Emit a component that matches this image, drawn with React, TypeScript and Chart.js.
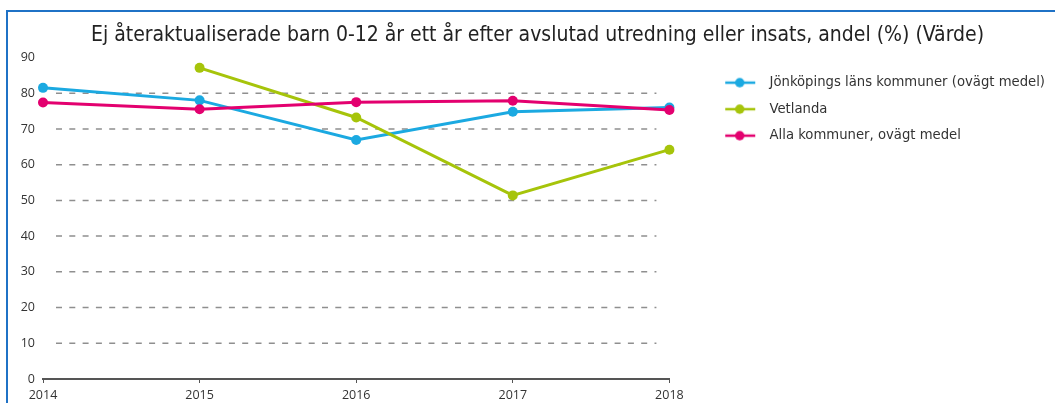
import React, { useEffect, useRef } from "react";
import { Chart, registerables } from "chart.js";

Chart.register(...registerables);

const years = ["2014", "2015", "2016", "2017", "2018"];
const jonkoping = [81.5, 78.0, 66.9, 74.8, 76.0];
const vetlanda = [null, 87.1, 73.2, 51.4, 64.2];
const alla = [77.4, 75.5, 77.5, 77.9, 75.3];
const seriesNames = [
  "Jönköpings läns kommuner (ovägt medel)",
  "Vetlanda",
  "Alla kommuner, ovägt medel",
];
const seriesColors = ["#1ba9e1", "#a6c40a", "#e3006f"];
const yTicksMax = 90;
const yTicksStep = 10;
const titleText =
  "Ej återaktualiserade barn 0-12 år ett år efter avslutad utredning eller insats, andel (%) (Värde)";

const FONT = '"DejaVu Sans Condensed", "DejaVu Sans", sans-serif';
const TICK_FONT = '"Open Sans", sans-serif';
const LEGEND_SIZE = 14.7;

function makeSwatch(color: string): HTMLCanvasElement {
  const c = document.createElement("canvas");
  c.width = 81;
  c.height = 14;
  const g = c.getContext("2d")!;
  g.strokeStyle = color;
  g.lineWidth = 2.5;
  g.beginPath();
  g.moveTo(44, 7);
  g.lineTo(74, 7);
  g.stroke();
  g.fillStyle = color;
  g.beginPath();
  g.arc(58.5, 7, 4.7, 0, Math.PI * 2);
  g.fill();
  return c;
}

const dashGrid = {
  id: "dashGrid",
  beforeDatasetsDraw(chart: any) {
    const ys = chart.scales.y;
    const { left, right } = chart.chartArea;
    const ctx = chart.ctx;
    ctx.save();
    ctx.setLineDash([6, 7.3]);
    ctx.strokeStyle = "#8f8f8f";
    ctx.lineWidth = 1.5;
    ys.ticks.forEach((t: any) => {
      if (t.value <= ys.min || t.value >= ys.max) return;
      const py = ys.getPixelForValue(t.value);
      ctx.beginPath();
      ctx.moveTo(left + 13, py);
      ctx.lineTo(right - 13, py);
      ctx.stroke();
    });
    ctx.restore();
  },
};

export default function App() {
  const ref = useRef<HTMLCanvasElement>(null);
  useEffect(() => {
    const canvas = ref.current!;
    const mctx = canvas.getContext("2d")!;
    mctx.font = `normal ${LEGEND_SIZE}px ${FONT}`;
    const textW = Math.max(...seriesNames.map((s) => mctx.measureText(s).width));
    const labelPad = 11.8;
    const pointW = 81;
    const legendW = labelPad + pointW + LEGEND_SIZE / 2 + textW + 10;
    const plotRight = 671;
    const plotLeft = 43;
    const padL = 20;
    const padR = Math.max(0, 1055 - plotRight - legendW);
    const swatches = seriesColors.map(makeSwatch);
    const values = [jonkoping, vetlanda, alla];

    const chart = new Chart(canvas, {
      type: "line",
      data: {
        labels: years,
        datasets: values.map((v, i) => ({
          label: seriesNames[i],
          data: v,
          borderColor: seriesColors[i],
          backgroundColor: seriesColors[i],
          pointBackgroundColor: seriesColors[i],
          pointBorderColor: seriesColors[i],
          borderWidth: 3,
          pointRadius: 5,
          pointBorderWidth: 0,
          tension: 0,
          clip: false as any,
          order: 3 - i,
        })),
      },
      options: {
        responsive: false,
        animation: false,
        devicePixelRatio: 1,
        layout: { padding: { left: padL, right: padR, top: 0, bottom: 0 } },
        plugins: {
          title: {
            display: true,
            text: titleText,
            color: "#222222",
            font: { family: FONT, size: 21, weight: "normal" },
            padding: { top: 23, bottom: 9.3 },
          },
          legend: {
            position: "right",
            align: "start",
            fullSize: false,
            maxWidth: 700,
            title: {
              display: true,
              text: "",
              font: { size: 1, lineHeight: 1 },
              padding: { top: 2.5, bottom: 2.5 },
            },
            labels: {
              usePointStyle: true,
              pointStyleWidth: pointW,
              padding: labelPad,
              color: "#333333",
              font: { family: FONT, size: LEGEND_SIZE },
              generateLabels(ch: any) {
                const items = Chart.defaults.plugins.legend.labels.generateLabels(ch);
                return items
                  .sort((a: any, b: any) => a.datasetIndex - b.datasetIndex)
                  .map((it: any) => ({ ...it, pointStyle: swatches[it.datasetIndex] }));
              },
            },
          },
          tooltip: { enabled: false },
        },
        scales: {
          x: {
            offset: false,
            grid: {
              display: true,
              drawOnChartArea: false,
              drawTicks: true,
              tickLength: 4,
              color: "#555555",
            },
            border: { display: true, color: "#555555", width: 2 },
            ticks: {
              color: "#333333",
              font: { family: TICK_FONT, size: 12.5 },
              padding: 5,
              maxRotation: 0,
            },
          },
          y: {
            min: 0,
            max: yTicksMax,
            grid: { display: false, drawTicks: false },
            border: { display: false },
            ticks: {
              stepSize: yTicksStep,
              color: "#333333",
              font: { family: TICK_FONT, size: 12.5 },
              padding: 8,
            },
            afterFit(scale: any) {
              scale.width = plotLeft - padL;
            },
          },
        },
      },
      plugins: [dashGrid],
    });
    return () => chart.destroy();
  }, []);

  return (
    <div
      style={{
        position: "absolute",
        left: 0,
        top: 0,
        width: 1055,
        height: 403,
        overflow: "hidden",
        background: "#ffffff",
      }}
    >
      <div
        style={{
          position: "absolute",
          left: 6,
          top: 10,
          width: 1200,
          height: 600,
          border: "2px solid #1f72c6",
        }}
      />
      <canvas
        ref={ref}
        width={1055}
        height={408}
        style={{ position: "absolute", left: 0, top: 0, display: "block" }}
      />
    </div>
  );
}
